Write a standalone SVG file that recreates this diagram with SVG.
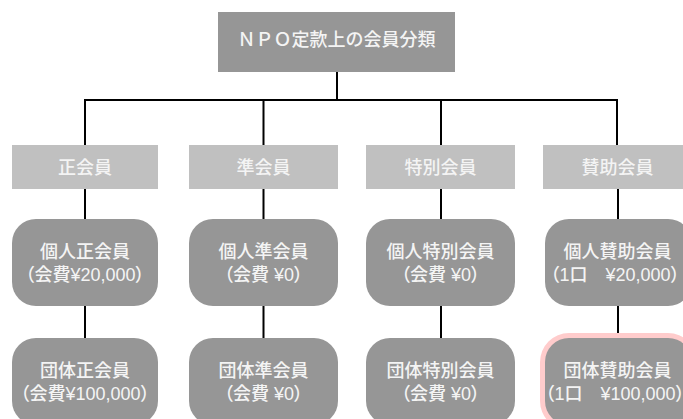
<svg xmlns="http://www.w3.org/2000/svg" width="683" height="419" viewBox="0 0 683 419">
<style>
.t{font-family:"Liberation Sans","Noto Sans CJK JP",sans-serif;font-size:18px;font-weight:500;fill:#f4f4f4;text-anchor:middle;dominant-baseline:central}
.s{font-feature-settings:"palt"}
.root{fill:#969696}
.cat{fill:#c0c0c0}
.mem{fill:#969696}
.hl{fill:#ffcccc}
.c{stroke:#000;stroke-width:2;fill:none}
</style>
<rect width="683" height="419" fill="#fff"/>
<g id="connectors">
<path class="c" d="M337 72V100M85 145V100H617V145M263.5 100V145M441 100V145"/>
<path class="c" d="M85 189V219M263.5 189V219M441 189V219M618 189V219"/>
<path class="c" d="M85 306V338M263.5 306V338M441 306V338M618 306V338"/>
</g>
<g id="root"><rect class="root" x="218" y="12" width="237" height="60"/><text class="t" x="336.5" y="39.5">ＮＰＯ定款上の会員分類</text></g>
<g id="cat1"><rect class="cat" x="12" y="145" width="146" height="44"/><text class="t" x="85" y="167.5">正会員</text></g>
<g id="cat2"><rect class="cat" x="189" y="145" width="149" height="44"/><text class="t" x="263.5" y="167.5">準会員</text></g>
<g id="cat3"><rect class="cat" x="366" y="145" width="149" height="44"/><text class="t" x="440.5" y="167.5">特別会員</text></g>
<g id="cat4"><rect class="cat" x="543" y="145" width="149" height="44"/><text class="t" x="617.5" y="167.5">賛助会員</text></g>
<g id="ind1"><rect class="mem" x="12" y="219" width="146" height="87" rx="24"/><text class="t" x="85" y="251.5">個人正会員</text><text class="t s" x="85" y="275">（会費¥20,000）</text></g>
<g id="ind2"><rect class="mem" x="189" y="219" width="149" height="87" rx="24"/><text class="t" x="263.5" y="251.5">個人準会員</text><text class="t s" x="263.5" y="275">（会費 ¥0）</text></g>
<g id="ind3"><rect class="mem" x="366" y="219" width="149" height="87" rx="24"/><text class="t" x="440.5" y="251.5">個人特別会員</text><text class="t s" x="440.5" y="275">（会費 ¥0）</text></g>
<g id="ind4"><rect class="mem" x="545" y="219" width="147" height="87" rx="24"/><text class="t" x="617.5" y="251.5">個人賛助会員</text><text class="t s" x="615" y="275">（1口　¥20,000）</text></g>
<g id="grp1"><rect class="mem" x="12" y="338" width="146" height="87" rx="24"/><text class="t" x="85" y="370.5">団体正会員</text><text class="t s" x="85" y="394">（会費¥100,000）</text></g>
<g id="grp2"><rect class="mem" x="189" y="338" width="149" height="87" rx="24"/><text class="t" x="263.5" y="370.5">団体準会員</text><text class="t s" x="263.5" y="394">（会費 ¥0）</text></g>
<g id="grp3"><rect class="mem" x="366" y="338" width="149" height="87" rx="24"/><text class="t" x="440.5" y="370.5">団体特別会員</text><text class="t s" x="440.5" y="394">（会費 ¥0）</text></g>
<g id="grp4"><rect class="hl" x="540" y="333" width="157" height="97" rx="29"/><rect class="mem" x="545" y="338" width="147" height="87" rx="24"/><text class="t" x="617.5" y="370.5">団体賛助会員</text><text class="t s" x="615" y="394">（1口　¥100,000）</text></g>
</svg>
